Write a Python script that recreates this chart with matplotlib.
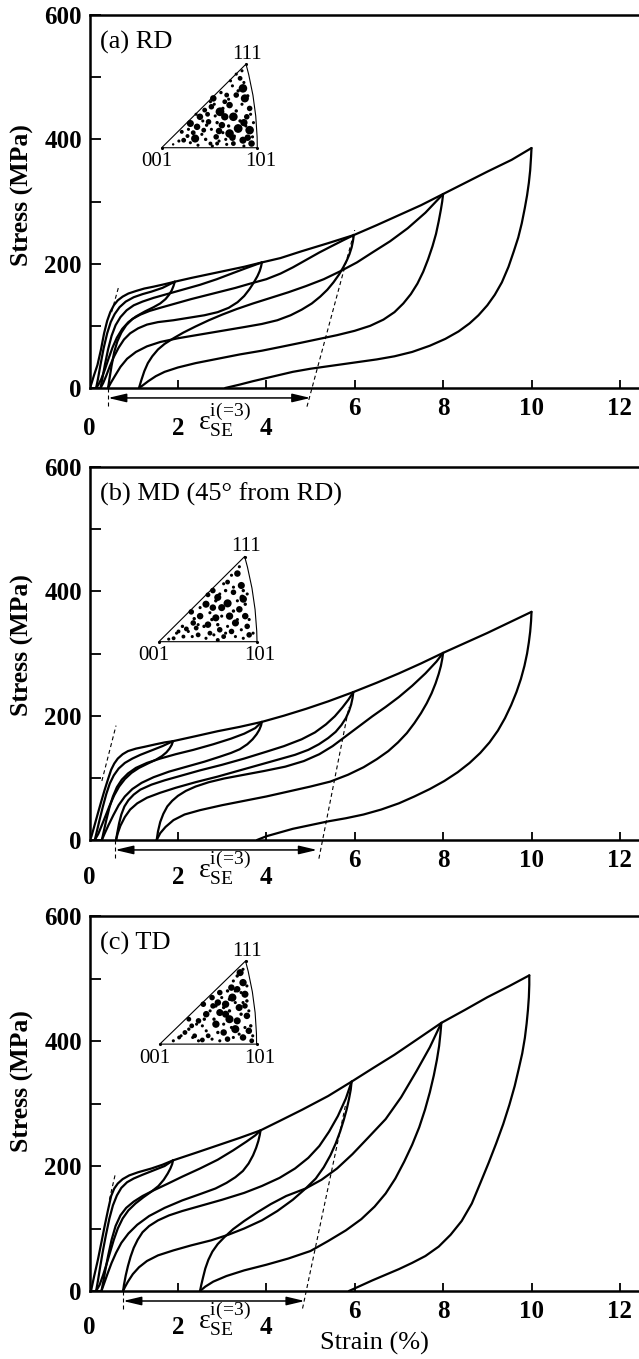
import numpy as np
import matplotlib
matplotlib.use('Agg')
import matplotlib.pyplot as plt
from matplotlib.path import Path
from matplotlib.patches import PathPatch

plt.rcParams['font.family'] = ['Liberation Serif', 'DejaVu Serif']
plt.rcParams['mathtext.fontset'] = 'custom'
plt.rcParams['mathtext.rm'] = 'Liberation Serif'
plt.rcParams['mathtext.it'] = 'Liberation Serif:italic'
plt.rcParams['mathtext.bf'] = 'Liberation Serif:bold'

# ---------------- data (strain %, stress MPa) ----------------
# (a) RD
rd_load1 = [(0, 0), (0.04, 6), (0.1, 20), (0.18, 37), (0.26, 62), (0.33, 88), (0.4, 108),
            (0.47, 122), (0.55, 133), (0.64, 141), (0.75, 147), (0.88, 152), (1.05, 156),
            (1.24, 160), (1.45, 163), (1.7, 167), (1.93, 171)]
rd_load2 = [(0.15, 0), (0.19, 14), (0.25, 38), (0.32, 64), (0.4, 88), (0.48, 106), (0.57, 119),
            (0.68, 130), (0.82, 139), (1.0, 146), (1.2, 151), (1.4, 155), (1.65, 161), (1.93, 171),
            (2.3, 177), (2.7, 183), (3.1, 189), (3.5, 195), (3.9, 202)]
rd_load3 = [(0.25, 0), (0.29, 15), (0.35, 38), (0.42, 62), (0.5, 84), (0.59, 101), (0.7, 114),
            (0.84, 125), (1.0, 133), (1.2, 139), (1.45, 145), (1.75, 151), (2.1, 158), (2.5, 166),
            (2.88, 175), (3.25, 185), (3.55, 193), (3.9, 202), (4.32, 209), (4.8, 220),
            (5.4, 233), (5.98, 246)]
rd_load4 = [(0.42, 0), (0.45, 14), (0.5, 36), (0.56, 58), (0.63, 75), (0.72, 89), (0.83, 101),
            (0.97, 111), (1.15, 118), (1.36, 124), (1.6, 129), (1.9, 135), (2.3, 143), (2.8, 152),
            (3.3, 161), (3.64, 168), (4.0, 175), (4.32, 184), (4.6, 194), (4.9, 206), (5.2, 218),
            (5.5, 229), (5.75, 238), (5.98, 246), (6.5, 262), (7.0, 278), (7.5, 294), (8.0, 312)]
rd_load5 = [(1.12, 0), (1.17, 12), (1.24, 27), (1.32, 40), (1.42, 51), (1.55, 62), (1.7, 71),
            (1.9, 80), (2.12, 89), (2.4, 99), (2.7, 109), (3.0, 118), (3.33, 127), (3.7, 136),
            (4.1, 145), (4.5, 154), (4.9, 164), (5.3, 175), (5.68, 188), (6.05, 202), (6.4, 218),
            (6.8, 236), (7.2, 257), (7.6, 282), (8.0, 312), (8.5, 330), (9.0, 348), (9.55, 367),
            (10.0, 386)]
rd_unload1 = [(1.93, 171), (1.9, 164), (1.86, 157), (1.8, 150), (1.72, 143), (1.6, 136),
              (1.45, 130), (1.25, 123), (1.05, 115), (0.88, 106), (0.74, 95), (0.62, 81),
              (0.52, 65), (0.43, 47), (0.35, 30), (0.27, 15), (0.2, 5), (0.15, 0)]
rd_unload2 = [(3.9, 202), (3.88, 195), (3.85, 188), (3.8, 180), (3.72, 170), (3.62, 159),
              (3.5, 148), (3.35, 138), (3.15, 129), (2.9, 122), (2.6, 117), (2.25, 113),
              (1.9, 109), (1.55, 106), (1.3, 102), (1.1, 96), (0.92, 88), (0.78, 78), (0.66, 65),
              (0.55, 50), (0.46, 35), (0.38, 20), (0.31, 8), (0.25, 0)]
rd_unload3 = [(5.98, 246), (5.96, 236), (5.93, 226), (5.88, 215), (5.82, 205), (5.74, 194),
              (5.64, 182), (5.52, 170), (5.38, 158), (5.22, 147), (5.03, 136), (4.8, 126),
              (4.55, 117), (4.25, 109), (3.9, 103), (3.5, 98), (3.0, 92), (2.5, 86), (2.0, 80),
              (1.6, 74), (1.3, 67), (1.05, 58), (0.85, 47), (0.7, 34), (0.58, 20), (0.48, 8),
              (0.42, 0)]
rd_unload4 = [(8.0, 312), (7.98, 300), (7.95, 287), (7.9, 268), (7.84, 248), (7.76, 228),
              (7.66, 207), (7.55, 187), (7.42, 168), (7.27, 151), (7.1, 136), (6.9, 122),
              (6.65, 110), (6.35, 100), (6.0, 92), (5.6, 85), (5.2, 79), (4.8, 73), (4.32, 66),
              (3.9, 60), (3.4, 54), (2.9, 47), (2.4, 40), (2.0, 33), (1.7, 26), (1.5, 19),
              (1.33, 11), (1.2, 4), (1.12, 0)]
rd_unload5 = [(10.0, 386), (9.99, 372), (9.97, 350), (9.94, 330), (9.9, 310), (9.85, 290),
              (9.78, 265), (9.7, 242), (9.6, 220), (9.48, 195), (9.33, 170), (9.17, 150),
              (9.0, 133), (8.8, 117), (8.6, 104), (8.35, 91), (8.05, 79), (7.7, 68), (7.3, 58),
              (6.9, 51), (6.5, 46), (6.0, 41), (5.5, 36), (5.0, 31), (4.6, 26), (4.3, 21),
              (4.0, 16), (3.7, 11), (3.4, 5.5), (3.07, 0)]
rd_dash_lo = [(0.5, 122), (0.66, 163)]
rd_dash_hi = [(4.92, -30), (6.0, 254)]
rd_arrow = [0.42, 5.0]

# (b) MD
md_load1 = [(0, 0), (0.04, 5), (0.1, 20), (0.19, 43), (0.27, 63), (0.34, 80), (0.42, 98),
            (0.49, 113), (0.56, 123), (0.64, 131), (0.75, 138), (0.87, 143), (1.05, 147),
            (1.25, 150), (1.5, 154), (1.7, 157), (1.89, 159)]
md_load2 = [(0.12, 0), (0.16, 12), (0.22, 30), (0.3, 53), (0.38, 74), (0.46, 91), (0.55, 104),
            (0.66, 115), (0.8, 124), (0.97, 131), (1.15, 137), (1.4, 144), (1.65, 151),
            (1.89, 159), (2.4, 167), (2.9, 175), (3.4, 182), (3.9, 190)]
md_load3 = [(0.28, 0), (0.32, 13), (0.38, 32), (0.45, 52), (0.53, 70), (0.62, 85), (0.73, 97),
            (0.87, 107), (1.05, 116), (1.3, 124), (1.6, 131), (1.95, 138), (2.35, 145), (2.8, 154),
            (3.2, 163), (3.5, 171), (3.75, 180), (3.9, 190), (4.4, 200), (4.9, 211), (5.4, 223),
            (5.97, 238)]
md_load4 = [(0.6, 0), (0.63, 12), (0.67, 27), (0.72, 41), (0.79, 54), (0.88, 64), (1.0, 73),
            (1.15, 81), (1.4, 89), (1.7, 96), (2.1, 104), (2.5, 112), (3.0, 121), (3.5, 131),
            (4.0, 142), (4.4, 151), (4.8, 162), (5.1, 173), (5.35, 186), (5.55, 199), (5.72, 213),
            (5.86, 226), (5.97, 238), (6.5, 253), (7.0, 268), (7.5, 284), (8.0, 301)]
md_load5 = [(1.52, 0), (1.55, 14), (1.6, 29), (1.67, 42), (1.76, 54), (1.87, 63), (2.0, 71),
            (2.18, 79), (2.4, 86), (2.7, 93), (3.05, 99), (3.5, 105), (3.95, 111), (4.43, 118),
            (4.85, 127), (5.2, 138), (5.5, 151), (5.8, 167), (6.1, 183), (6.4, 199), (6.7, 214),
            (7.0, 230), (7.3, 248), (7.6, 268), (7.85, 287), (8.0, 301), (8.5, 317), (9.0, 333),
            (9.5, 350), (10.0, 367)]
md_unload1 = [(1.89, 159), (1.86, 153), (1.81, 147), (1.74, 141), (1.64, 135), (1.5, 129),
              (1.32, 123), (1.12, 116), (0.95, 108), (0.8, 98), (0.67, 86), (0.56, 72),
              (0.46, 56), (0.37, 40), (0.28, 24), (0.2, 10), (0.12, 0)]
md_unload2 = [(3.9, 190), (3.88, 184), (3.84, 177), (3.78, 170), (3.69, 162), (3.57, 154),
              (3.4, 146), (3.2, 140), (2.95, 134), (2.6, 126), (2.2, 118), (1.8, 110),
              (1.45, 101), (1.18, 92), (0.97, 82), (0.8, 70), (0.66, 56), (0.54, 40), (0.43, 24),
              (0.34, 10), (0.28, 0)]
md_unload3 = [(5.97, 238), (5.95, 228), (5.92, 218), (5.87, 207), (5.8, 196), (5.7, 185),
              (5.57, 174), (5.4, 164), (5.19, 154), (4.95, 145), (4.65, 137), (4.3, 130),
              (3.9, 122), (3.4, 112), (2.9, 102), (2.4, 93), (1.95, 84), (1.6, 76), (1.3, 68),
              (1.08, 59), (0.92, 49), (0.8, 37), (0.7, 23), (0.64, 11), (0.6, 0)]
md_unload4 = [(8.0, 301), (7.98, 291), (7.95, 280), (7.9, 267), (7.83, 252), (7.74, 236),
              (7.63, 220), (7.5, 204), (7.35, 188), (7.18, 172), (6.98, 157), (6.76, 143),
              (6.5, 130), (6.2, 117), (5.85, 105), (5.45, 94), (5.0, 86), (4.5, 78), (4.0, 70),
              (3.5, 63), (3.0, 56), (2.5, 48), (2.15, 41), (1.9, 32), (1.72, 21), (1.6, 11),
              (1.52, 0)]
md_unload5 = [(10.0, 367), (9.99, 352), (9.97, 335), (9.94, 318), (9.9, 300), (9.84, 280),
              (9.76, 259), (9.66, 238), (9.54, 217), (9.4, 196), (9.24, 176), (9.05, 157),
              (8.84, 140), (8.6, 124), (8.33, 109), (8.03, 95), (7.7, 82), (7.35, 70), (7.0, 59),
              (6.6, 49), (6.2, 41), (5.8, 35), (5.4, 30), (5.0, 24), (4.6, 18), (4.25, 11),
              (4.0, 6), (3.79, 0)]
md_dash_lo = [(0.28, 95), (0.6, 184)]
md_dash_hi = [(5.19, -30), (5.87, 214)]
md_arrow = [0.58, 5.15]

# (c) TD
td_load1 = [(0, 0), (0.04, 2), (0.1, 22), (0.19, 50), (0.27, 78), (0.34, 103), (0.42, 130),
            (0.49, 152), (0.56, 164), (0.64, 172), (0.75, 179), (0.9, 185), (1.1, 190),
            (1.4, 196), (1.65, 202), (1.89, 209)]
td_load2 = [(0.15, 0), (0.19, 16), (0.24, 38), (0.3, 63), (0.37, 89), (0.45, 116), (0.53, 137),
            (0.62, 153), (0.72, 165), (0.85, 174), (1.0, 180), (1.2, 186), (1.45, 193), (1.7, 200),
            (1.89, 209), (2.4, 221), (2.9, 233), (3.4, 245), (3.87, 257)]
td_load3 = [(0.27, 0), (0.31, 14), (0.36, 34), (0.42, 56), (0.5, 82), (0.59, 104), (0.7, 121),
            (0.83, 133), (1.0, 143), (1.2, 152), (1.45, 161), (1.75, 171), (2.1, 183), (2.5, 196),
            (2.9, 210), (3.25, 225), (3.55, 239), (3.75, 249), (3.87, 257), (4.3, 272),
            (4.81, 290), (5.4, 312), (5.93, 335)]
td_load4 = [(0.76, 0), (0.78, 10), (0.82, 25), (0.87, 40), (0.93, 55), (1.0, 69), (1.09, 82),
            (1.2, 94), (1.35, 104), (1.55, 113), (1.8, 121), (2.1, 128), (2.5, 136), (3.0, 146),
            (3.5, 157), (3.9, 168), (4.3, 181), (4.65, 196), (4.95, 213), (5.2, 232), (5.42, 255),
            (5.62, 280), (5.8, 308), (5.93, 335), (6.4, 356), (6.9, 378), (7.4, 402), (7.96, 429)]
td_load5 = [(2.5, 0), (2.53, 10), (2.57, 22), (2.62, 36), (2.69, 50), (2.78, 63), (2.9, 75),
            (3.05, 86), (3.25, 99), (3.5, 112), (3.8, 126), (4.1, 139), (4.45, 152), (4.89, 164),
            (5.25, 178), (5.6, 196), (5.95, 219), (6.3, 245), (6.7, 275), (7.05, 310),
            (7.4, 352), (7.7, 390), (7.96, 429), (8.5, 450), (9.0, 470), (9.5, 488), (9.95, 505)]
td_unload1 = [(1.89, 209), (1.87, 203), (1.83, 196), (1.77, 188), (1.68, 178), (1.56, 168),
              (1.4, 159), (1.22, 150), (1.04, 140), (0.88, 129), (0.75, 116), (0.64, 100),
              (0.55, 82), (0.47, 63), (0.39, 44), (0.31, 26), (0.23, 10), (0.15, 0)]
td_unload2 = [(3.87, 257), (3.85, 249), (3.82, 240), (3.77, 229), (3.7, 217), (3.6, 204),
              (3.47, 192), (3.3, 182), (3.1, 173), (2.85, 164), (2.5, 155), (2.1, 145),
              (1.7, 133), (1.35, 120), (1.08, 106), (0.88, 92), (0.72, 77), (0.6, 61), (0.5, 45),
              (0.41, 28), (0.33, 12), (0.27, 0)]
td_unload3 = [(5.93, 335), (5.91, 322), (5.87, 307), (5.82, 291), (5.75, 273), (5.67, 255),
              (5.57, 236), (5.45, 217), (5.3, 198), (5.12, 180), (4.89, 164), (4.6, 146),
              (4.25, 128), (3.9, 113), (3.5, 100), (3.14, 90), (2.75, 81), (2.3, 73), (1.9, 65),
              (1.55, 57), (1.3, 48), (1.12, 38), (0.98, 27), (0.87, 15), (0.8, 6), (0.76, 0)]
td_unload4 = [(7.96, 429), (7.94, 412), (7.91, 392), (7.86, 370), (7.79, 345), (7.7, 318),
              (7.59, 290), (7.46, 262), (7.3, 234), (7.12, 207), (6.92, 180), (6.7, 156),
              (6.45, 135), (6.15, 115), (5.8, 97), (5.4, 80), (5.0, 64), (4.5, 52), (4.0, 42),
              (3.5, 33), (3.1, 24), (2.8, 15), (2.62, 7), (2.5, 0)]
td_unload5 = [(9.95, 505), (9.95, 490), (9.94, 470), (9.92, 450), (9.89, 428), (9.85, 405),
              (9.79, 380), (9.71, 355), (9.62, 328), (9.5, 298), (9.36, 267), (9.2, 236),
              (9.03, 205), (8.85, 174), (8.65, 140), (8.42, 112), (8.17, 90), (7.9, 71),
              (7.6, 56), (7.3, 45), (7.0, 35), (6.7, 26), (6.4, 17), (6.12, 8), (5.87, 0)]
td_dash_lo = [(0.45, 146), (0.58, 186)]
td_dash_hi = [(4.82, -28), (5.8, 300)]
td_arrow = [0.76, 4.87]

# inverse pole figure spots: fraction along the 001-101 base (u), fraction of height (v), size
ipf_rd_u = [.82, .85, .78, .87, .54, .71, .61, .75, .52, .40, .30, .49, .63, .80, .92, .71, .35, .23,
            .57, .85, .94, .44, .66, .89, .37, .21, .51, .75, .92, .68, .60, .45, .86, .74, .33, .58,
            .90, .66, .48, .27,
            .30, .38, .46, .52, .58, .64, .70, .76, .82, .88, .95, .78, .84, .90, .86, .80, .74, .70,
            .64, .56, .47, .42, .28, .18, .12, .60, .68, .86, .96, .93, .72, .62, .55, .43, .36, .51,
            .78, .84, .67, .53]
ipf_rd_v = [.83, .71, .63, .59, .59, .51, .43, .37, .49, .37, .29, .31, .27, .23, .21, .17, .11, .09,
            .13, .09, .05, .21, .37, .37, .25, .19, .05, .05, .47, .63, .20, .45, .30, .12, .18, .05,
            .12, .55, .40, .14,
            .06, .03, .10, .22, .30, .18, .26, .14, .32, .26, .13, .44, .52, .62, .78, .68, .74, .58,
            .47, .38, .27, .16, .22, .08, .04, .08, .04, .02, .30, .40, .80, .66, .52, .32, .40, .55,
            .88, .92, .10, .02]
ipf_rd_s = [12, 38, 16, 34, 22, 22, 40, 38, 16, 22, 26, 16, 22, 40, 38, 38, 34, 12, 16, 26, 22, 12,
            28, 16, 22, 8, 8, 12, 16, 12, 22, 12, 28, 22, 12, 8, 22, 12, 12, 8,
            5, 5, 6, 5, 6, 5, 6, 5, 6, 5, 5, 6, 5, 6, 5, 6, 5, 5, 6, 5, 6, 5, 5, 5, 3, 5, 5, 5, 5, 5,
            5, 6, 5, 5, 5, 5, 5, 5, 5, 5]
ipf_md_u = [.80, .84, .76, .86, .70, .60, .72, .55, .48, .42, .35, .28, .50, .62, .78, .90, .66, .40,
            .25, .15, .55, .82, .92, .70, .50, .58, .33, .88, .64, .52, .74, .38, .20, .85, .60,
            .10, .18, .24, .30, .36, .42, .46, .52, .56, .60, .64, .68, .72, .76, .80, .84, .88, .92,
            .96, .74, .82, .86, .66, .58, .62, .70, .78, .86, .48, .34, .40, .54, .68, .80, .90, .76]
ipf_md_v = [.80, .66, .58, .50, .45, .52, .30, .40, .44, .30, .22, .15, .20, .14, .22, .18, .06, .08,
            .06, .04, .60, .38, .08, .70, .55, .28, .35, .30, .40, .10, .12, .16, .12, .52, .02,
            .03, .10, .18, .12, .27, .40, .18, .34, .08, .20, .30, .60, .46, .36, .26, .14, .44, .26,
            .10, .78, .88, .60, .68, .48, .56, .18, .06, .04, .04, .06, .20, .26, .10, .48, .56, .64]
ipf_md_s = [22, 26, 16, 28, 34, 26, 28, 22, 26, 22, 16, 12, 22, 16, 26, 16, 12, 12, 8, 8, 16, 22,
            16, 12, 12, 26, 16, 22, 26, 12, 16, 12, 8, 16, 8,
            5, 5, 6, 5, 6, 5, 6, 5, 5, 6, 5, 6, 5, 6, 5, 5, 6, 5, 5, 5, 5, 6, 5, 6, 5, 5, 5, 5, 5, 5,
            5, 6, 5, 5, 5, 5]
ipf_td_u = [.83, .86, .80, .88, .75, .68, .82, .90, .62, .72, .55, .48, .40, .33, .26, .58, .66, .78,
            .92, .70, .50, .44, .86, .62, .36, .74, .54, .88, .95, .68, .80, .30, .45, .60, .20,
            .14, .22, .30, .38, .46, .52, .58, .64, .70, .76, .80, .86, .90, .92, .94, .96, .84, .78,
            .72, .66, .60, .54, .40, .48, .56, .74, .82, .88, .66, .84, .78, .72, .62, .34, .44, .86,
            .90, .76]
ipf_td_v = [.86, .74, .66, .60, .56, .48, .44, .34, .38, .30, .46, .36, .28, .22, .14, .24, .14, .18,
            .16, .06, .10, .05, .08, .62, .10, .68, .56, .46, .04, .36, .28, .30, .48, .50, .08,
            .04, .10, .18, .24, .30, .40, .46, .56, .64, .76, .82, .90, .52, .40, .22, .10, .36, .50,
            .40, .24, .14, .06, .04, .16, .30, .20, .12, .20, .44, .62, .64, .54, .04, .08, .22, .50,
            .70, .08]
ipf_td_s = [26, 28, 22, 26, 34, 28, 26, 22, 26, 34, 16, 22, 16, 12, 12, 28, 22, 34, 22, 16, 12, 12,
            22, 16, 12, 22, 16, 16, 12, 26, 26, 12, 16, 22, 8,
            5, 5, 6, 5, 6, 5, 6, 5, 6, 5, 6, 5, 6, 5, 6, 5, 6, 5, 6, 5, 6, 5, 5, 5, 6, 5, 5, 5, 6, 5,
            5, 6, 5, 5, 5, 5, 5, 5]

x_ticks = [2, 4, 6, 8, 10, 12]
x_labels_low = [0, 2, 4]
x_labels_high = [6, 8, 10, 12]
y_ticks = [0, 100, 200, 300, 400, 500, 600]
y_labels = ['0', '', '200', '', '400', '', '600']

# ---------------- layout (pixels of the 639 x 1359 picture) ----------------
W, H = 639, 1359
X0 = 89.5           # x pixel of strain = 0
PX_PER_UNIT = 44.2  # pixels per 1 % strain

panels = [
    dict(top=15, bottom=388, label='(a) RD', ylab_y=195, low_base=47,
         curves=[rd_load1, rd_load2, rd_load3, rd_load4, rd_load5,
                 rd_unload1, rd_unload2, rd_unload3, rd_unload4, rd_unload5],
         dash_lo=rd_dash_lo, dash_hi=rd_dash_hi, arrow=rd_arrow,
         tri=[(1.633, 386.5), (3.796, 386.5), (3.541, 521)],
         ipf=(ipf_rd_u, ipf_rd_v, ipf_rd_s)),
    dict(top=467, bottom=840, label='(b) MD (45° from RD)', ylab_y=645, low_base=43.5,
         curves=[md_load1, md_load2, md_load3, md_load4, md_load5,
                 md_unload1, md_unload2, md_unload3, md_unload4, md_unload5],
         dash_lo=md_dash_lo, dash_hi=md_dash_hi, arrow=md_arrow,
         tri=[(1.57, 319), (3.79, 319), (3.51, 456)],
         ipf=(ipf_md_u, ipf_md_v, ipf_md_s)),
    dict(top=916, bottom=1291, label='(c) TD', ylab_y=1081, low_base=43,
         curves=[td_load1, td_load2, td_load3, td_load4, td_load5,
                 td_unload1, td_unload2, td_unload3, td_unload4, td_unload5],
         dash_lo=td_dash_lo, dash_hi=td_dash_hi, arrow=td_arrow,
         tri=[(1.59, 395), (3.78, 395), (3.53, 528)],
         ipf=(ipf_td_u, ipf_td_v, ipf_td_s)),
]

fig = plt.figure(figsize=(W / 100, H / 100), dpi=100)
xmax = (W - X0) / PX_PER_UNIT
dash = (0, (3.6, 2.7))
eps_label = r'$\mathrm{\varepsilon}_{\mathrm{SE}}^{\mathrm{i(\!=\!3)}}$'


def below_axis(ax, text, x, off, ha='center', **kw):
    """Text whose baseline sits `off` pixels under the x axis at strain x."""
    ax.annotate(text, xy=(x, 0), xycoords=('data', 'axes fraction'), xytext=(0, -off),
                textcoords='offset pixels', ha=ha, va='baseline', annotation_clip=False, **kw)


for p in panels:
    ax = fig.add_axes([X0 / W, 1 - p['bottom'] / H, (W - X0) / W, (p['bottom'] - p['top']) / H])
    ax.set_xlim(0, xmax)
    ax.set_ylim(0, 600)
    ax.spines['right'].set_visible(False)
    for s in ('left', 'top', 'bottom'):
        ax.spines[s].set_linewidth(1.8)

    ax.set_xticks(x_ticks)
    ax.set_xticklabels([])
    ax.set_yticks(y_ticks)
    ax.set_yticklabels(y_labels, fontsize=18, fontweight='bold')
    ax.tick_params(axis='y', direction='in', length=8, width=1.3, pad=5.5)
    ax.tick_params(axis='x', direction='in', length=5.8, width=1.3)

    for c in p['curves']:
        xs, ys = np.array(c).T
        ax.plot(xs, ys, color='black', lw=1.6, solid_capstyle='round', solid_joinstyle='round')

    # elastic lines (dashed) and the superelastic strain arrow
    for d in (p['dash_lo'], p['dash_hi']):
        xs, ys = np.array(d).T
        ax.plot(xs, ys, color='black', lw=0.8, ls=dash, clip_on=False)
    a0, a1 = p['arrow']
    ax.plot([a0, a0], [0, -30], color='black', lw=0.8, ls=dash, clip_on=False)
    ax.annotate('', xy=(a1, -16), xytext=(a0, -16), annotation_clip=False,
                arrowprops=dict(arrowstyle='<|-|>,head_length=0.55,head_width=0.13',
                                mutation_scale=20, color='black', lw=1.1,
                                shrinkA=0, shrinkB=0))

    # x tick labels: 0, 2, 4 are pushed down below the arrow
    for v in x_labels_low:
        below_axis(ax, str(v), v, p['low_base'], fontsize=18, fontweight='bold')
    for v in x_labels_high:
        below_axis(ax, str(v), v, 27, fontsize=18, fontweight='bold')
    below_axis(ax, eps_label, 2.45, p['low_base'] - 5, ha='left', fontsize=20)

    # inverse pole figure inset
    (ax_, ay_), (bx_, by_), (cx_, cy_) = p['tri']
    ax.plot([bx_, ax_, cx_], [by_, ay_, cy_], color='black', lw=0.8)
    mx, my = (bx_ + cx_) / 2, (by_ + cy_) / 2
    arc = Path([(bx_, by_), (mx + 0.13, my + 1), (cx_, cy_)],
               [Path.MOVETO, Path.CURVE3, Path.CURVE3])
    ax.add_patch(PathPatch(arc, fill=False, lw=0.8, color='black'))
    ax.scatter([ax_, bx_, cx_], [ay_, by_, cy_], s=5, color='black', lw=0, zorder=3)
    u, v, sz = p['ipf']
    px = ax_ + np.array(u) * (bx_ - ax_)
    py = ay_ + np.array(v) * (cy_ - ay_)
    ax.scatter(px, py, s=sz, color='black', lw=0, marker='o', zorder=3)
    ax.annotate('111', xy=(cx_, cy_), xytext=(1, 10), textcoords='offset pixels',
                ha='center', va='center', fontsize=15)
    ax.annotate('001', xy=(ax_, ay_), xytext=(-5, -14), textcoords='offset pixels',
                ha='center', va='center', fontsize=15)
    ax.annotate('101', xy=(bx_, by_), xytext=(3, -14), textcoords='offset pixels',
                ha='center', va='center', fontsize=15)

    fig.text(100 / W, 1 - (p['top'] + 27) / H, p['label'], ha='left', va='center', fontsize=19)
    fig.text(22 / W, 1 - p['ylab_y'] / H, 'Stress (MPa)', rotation=90, ha='center',
             va='center', fontsize=18.5, fontweight='bold')

fig.text(374 / W, 1 - 1343 / H, 'Strain (%)', ha='center', va='center', fontsize=19)

fig.savefig('out.png', dpi=100)
